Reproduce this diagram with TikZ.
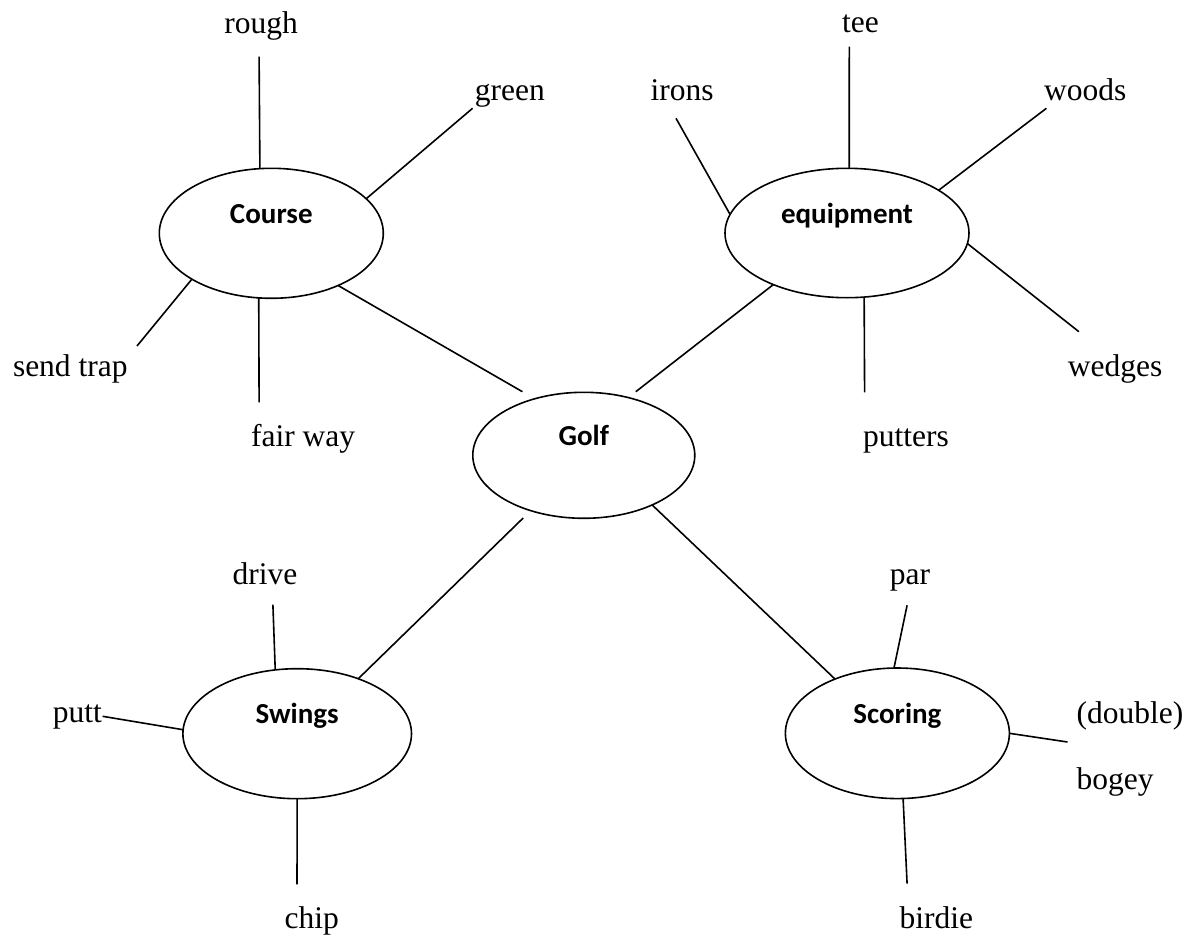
\documentclass[tikz,border=0pt]{standalone}
\usepackage{fontspec}
\setmainfont{Liberation Serif}
\newfontfamily\hubfont{Carlito}
\usetikzlibrary{shapes.geometric}

\begin{document}
\begin{tikzpicture}[
  x=0.5pt, y=-0.5pt,
  hub/.style={
    draw,
    ellipse,
    line width=0.8pt,
    inner sep=0pt,
    outer sep=0pt,
    text height=2pt,
    text depth=12pt,
    font=\hubfont\bfseries\fontsize{14.5}{17}\selectfont
  },
  leaf/.style={
    anchor=base west,
    inner sep=0pt,
    font=\fontsize{15.75}{19}\selectfont
  },
  spoke/.style={line width=0.8pt}
]
\useasboundingbox (0,0) rectangle (1191,937);

% topics
\node[hub, minimum width=112pt, minimum height=65pt] (course) at (271.3,233.3) {Course};
\node[hub, minimum width=122pt, minimum height=64.7pt] (equip) at (847,233) {equipment};
\node[hub, minimum width=111pt, minimum height=63pt] (golf) at (583.8,455.3) {Golf};
\node[hub, minimum width=114.3pt, minimum height=65pt] (swings) at (297.2,733.7) {Swings};
\node[hub, minimum width=112pt, minimum height=65.3pt] (scoring) at (897.4,733.3) {Scoring};

% words
\node[leaf] (rough) at (223.9,33.3) {rough};
\node[leaf] (green) at (474.5,100) {green};
\node[leaf] (sendtrap) at (12.6,376.7) {send trap};
\node[leaf] (fairway) at (250.7,446.7) {fair way};
\node[leaf] (tee) at (841.7,32.3) {tee};
\node[leaf] (irons) at (650.3,100) {irons};
\node[leaf] (woods) at (1043.7,100) {woods};
\node[leaf] (wedges) at (1067.5,376.7) {wedges};
\node[leaf] (putters) at (862.7,446.7) {putters};
\node[leaf] (drive) at (232.3,584.3) {drive};
\node[leaf] (putt) at (52.4,722) {putt};
\node[leaf] (chip) at (284.3,928.7) {chip};
\node[leaf] (par) at (889.5,584.3) {par};
\node[leaf] (double) at (1076.3,723) {(double)};
\node[leaf] (bogey) at (1076.3,789.7) {bogey};
\node[leaf] (birdie) at (899.1,928.7) {birdie};

% free line ends
\coordinate (rough-end) at (259.1,56.7);
\coordinate (green-end) at (472.6,108.3);
\coordinate (sendtrap-end) at (137,346);
\coordinate (fairway-end) at (259.1,402.3);
\coordinate (tee-end) at (849.3,46.7);
\coordinate (irons-end) at (676,118.3);
\coordinate (woods-end) at (1046.4,108.3);
\coordinate (wedges-end) at (1078.9,331.7);
\coordinate (putters-end) at (864.6,392.3);
\coordinate (drive-end) at (272.9,604.7);
\coordinate (putt-end) at (102.6,716.3);
\coordinate (chip-end) at (297,884.3);
\coordinate (par-end) at (907.1,605.3);
\coordinate (bogey-end) at (1067.5,742);
\coordinate (birdie-end) at (907.1,883.7);
\coordinate (golf-nw) at (522.4,391.7);
\coordinate (golf-ne) at (635.8,391.7);
\coordinate (golf-sw) at (523.2,518);

% golf links
\draw[spoke] (course.322.4) -- (golf-nw);
\draw[spoke] (equip.215) -- (golf-ne);
\draw[spoke] (swings.42.2) -- (golf-sw);
\draw[spoke] (golf.324.8) -- (scoring.139.7);

% course
\draw[spoke] (course.100.6) -- (rough-end);
\draw[spoke] (course.20.85) -- (green-end);
\draw[spoke] (course.210.8) -- (sendtrap-end);
\draw[spoke] (course.259.5) -- (fairway-end);

% equipment
\draw[spoke] (equip.88) -- (tee-end);
\draw[spoke] (equip.171.65) -- (irons-end);
\draw[spoke] (equip.25.3) -- (woods-end);
\draw[spoke] (equip.355.5) -- (wedges-end);
\draw[spoke] (equip.285.4) -- (putters-end);

% swings
\draw[spoke] (swings.109.2) -- (drive-end);
\draw[spoke] (swings.178.3) -- (putt-end);
\draw[spoke] (swings.270) -- (chip-end);

% scoring
\draw[spoke] (scoring.93.6) -- (par-end);
\draw[spoke] (scoring.0) -- (bogey-end);
\draw[spoke] (scoring.275.7) -- (birdie-end);

\end{tikzpicture}
\end{document}
